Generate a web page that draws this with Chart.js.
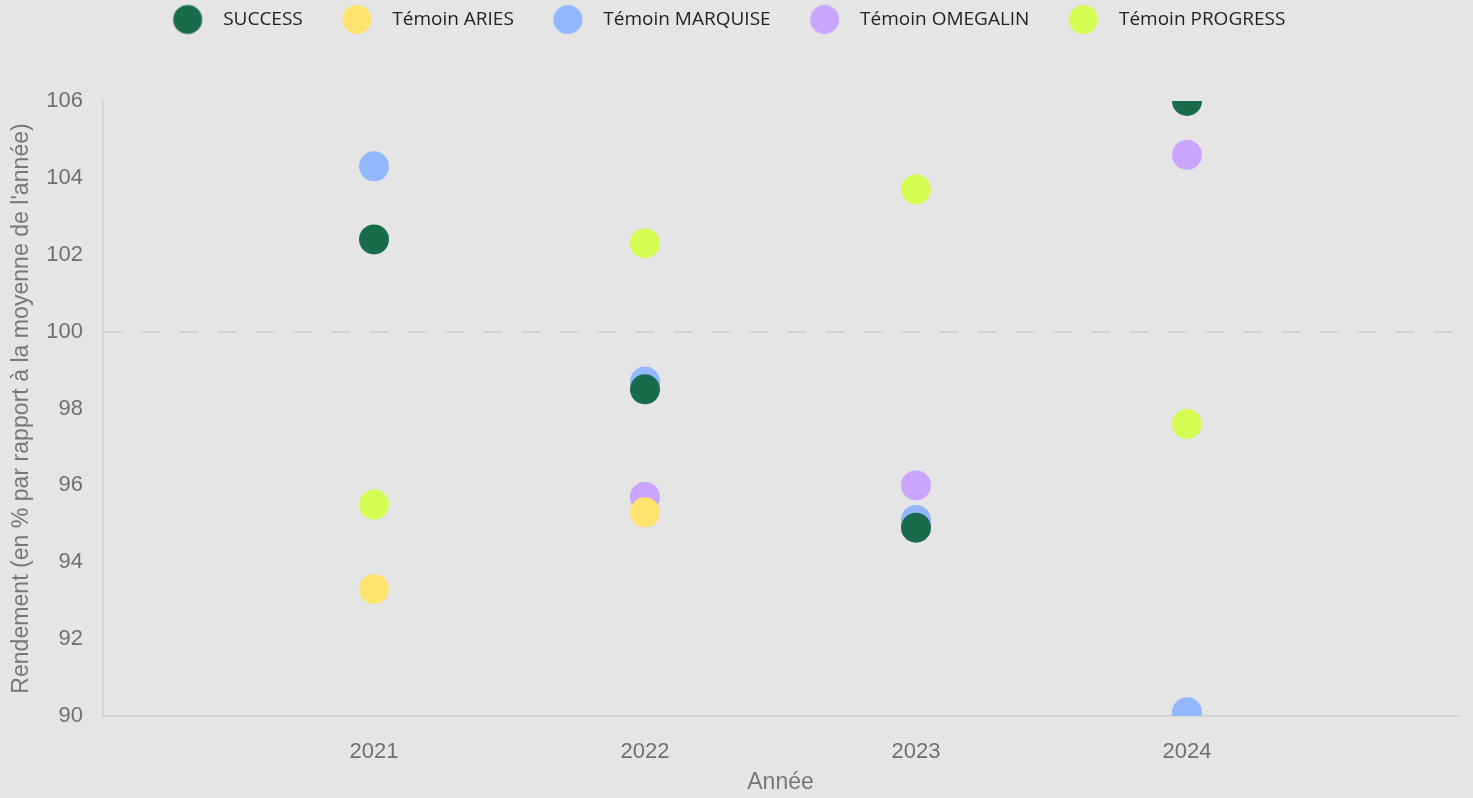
<!DOCTYPE html>
<html>
<head>
<meta charset="utf-8">
<script src="https://cdn.jsdelivr.net/npm/chart.js@4/dist/chart.umd.min.js"></script>
<style>
  html, body { margin: 0; padding: 0; background: #e5e5e5; }
  #wrap { width: 1473px; height: 798px; }
  canvas { display: block; }
</style>
</head>
<body>
<div id="wrap"><canvas id="c" width="1473" height="798"></canvas></div>
<script>
// ---- data ----
const years = [2021, 2022, 2023, 2024];
const seriesNames = ['SUCCESS', 'Témoin ARIES', 'Témoin MARQUISE', 'Témoin OMEGALIN', 'Témoin PROGRESS'];
const success  = [102.4, 98.5, 94.9, 106.0];
const aries    = [93.3, 95.3, null, null];
const marquise = [104.3, 98.7, 95.1, 90.1];
const omegalin = [null, 95.7, 96.0, 104.6];
const progress = [95.5, 102.3, 103.7, 97.6];
const seriesColors = ['#186b4b', '#fee46f', '#93b7fd', '#c9a6fc', '#d5fc53'];
const xMin = 2020, xMax = 2025;
const yMin = 90, yMax = 106, yStep = 2;
const refLine = 100;

const seriesValues = [success, aries, marquise, omegalin, progress];

function toPoints(vals) {
  const pts = [];
  years.forEach((yr, i) => { if (vals[i] !== null) pts.push({ x: yr, y: vals[i] }); });
  return pts;
}

// legend marker: circle drawn offset inside its image so the text gap matches
const LEG_FONT = 19, LEG_PAD = 10, LEG_D = 44, LEG_W = 35.5 - LEG_FONT / 2 + LEG_D;
function legendDot(color) {
  const c = document.createElement('canvas');
  const off = LEG_D - LEG_W / 2;
  c.width = Math.ceil(2 * (Math.abs(off) + 16));
  c.height = 32;
  const g = c.getContext('2d');
  g.fillStyle = color;
  g.beginPath();
  g.arc(c.width / 2 + off, 16, 14.5, 0, Math.PI * 2);
  g.fill();
  return c;
}
const dots = seriesColors.map(legendDot);

const bgPlugin = {
  id: 'bg',
  beforeDraw(chart) {
    const ctx = chart.ctx;
    ctx.save();
    ctx.fillStyle = '#e5e5e5';
    ctx.fillRect(0, 0, chart.width, chart.height);
    ctx.restore();
  }
};
const LEG_SHIFT = -21;
const legendShift = {
  id: 'legendShift',
  afterLayout(chart) {
    const lg = chart.legend;
    if (lg) {
      lg.left += LEG_SHIFT; lg.right += LEG_SHIFT;
      const h = lg.bottom - lg.top;
      lg.top = 0; lg.bottom = h;
    }
  }
};

new Chart(document.getElementById('c'), {
  type: 'scatter',
  data: {
    datasets: seriesNames.map((name, i) => ({
      label: name,
      data: toPoints(seriesValues[i]),
      backgroundColor: seriesColors[i],
      borderColor: seriesColors[i],
      borderWidth: 0,
      pointRadius: 15,
      pointHoverRadius: 15,
      pointStyle: 'circle'
    }))
  },
  options: {
    responsive: false,
    animation: false,
    layout: { padding: { left: 8, right: 10, top: 0, bottom: 2 } },
    plugins: {
      tooltip: { enabled: false },
      legend: {
        position: 'top',
        labels: {
          usePointStyle: true,
          pointStyleWidth: LEG_W,
          padding: LEG_PAD,
          color: '#222222',
          font: { family: 'Open Sans', size: LEG_FONT },
          generateLabels(chart) {
            const items = Chart.defaults.plugins.legend.labels.generateLabels(chart);
            items.forEach(it => { it.pointStyle = dots[it.datasetIndex]; });
            return items;
          }
        }
      }
    },
    scales: {
      x: {
        type: 'linear',
        min: xMin, max: xMax,
        afterFit(scale) { scale.height = 80; scale.paddingRight = 0; scale.paddingLeft = 0; },
        ticks: {
          stepSize: 1,
          color: '#707070',
          font: { family: 'Liberation Sans', size: 22 },
          padding: 23,
          callback: v => (years.includes(v) ? String(v) : '')
        },
        grid: { display: false, drawTicks: false },
        border: { display: true, color: '#cdcdcd', width: 1.5 },
        title: { display: true, text: 'Année', color: '#777777', font: { family: 'Liberation Sans', size: 23 }, padding: 0 }
      },
      y: {
        min: yMin, max: yMax,
        afterFit(scale) { scale.width = 95; scale.paddingTop = 101; },
        ticks: {
          stepSize: yStep,
          color: '#707070',
          font: { family: 'Liberation Sans', size: 22 },
          padding: 20
        },
        grid: {
          display: true,
          drawTicks: false,
          lineWidth: 2,
          color: ctx => (ctx.tick && ctx.tick.value === refLine ? '#d2d2d2' : 'rgba(0,0,0,0)')
        },
        border: { display: true, color: '#cdcdcd', width: 1.5, dash: [19, 19] },
        title: { display: true, text: "Rendement (en % par rapport à la moyenne de l'année)", color: '#777777', font: { family: 'Liberation Sans', size: 23.1 }, padding: 0 }
      }
    }
  },
  plugins: [bgPlugin, legendShift]
});
</script>
</body>
</html>
